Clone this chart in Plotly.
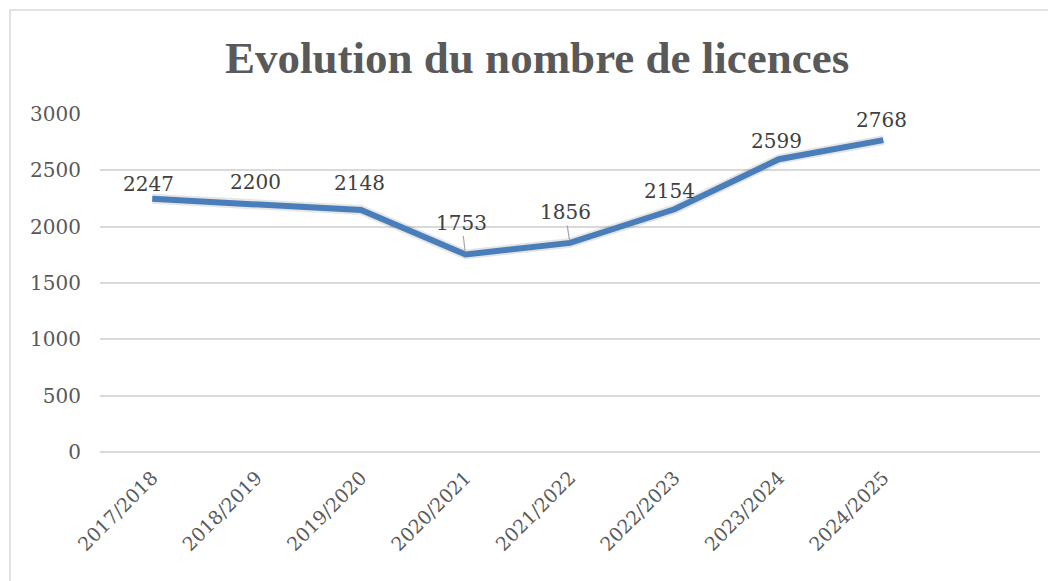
import plotly.graph_objects as go

# Data
seasons = ['2017/2018', '2018/2019', '2019/2020', '2020/2021',
           '2021/2022', '2022/2023', '2023/2024', '2024/2025']
licences = [2247, 2200, 2148, 1753, 1856, 2154, 2599, 2768]
y_ticks = [0, 500, 1000, 1500, 2000, 2500, 3000]

SERIF = "DejaVu Serif, serif"
TITLE_FONT = "Liberation Serif, serif"
LINE_COLOR = '#4A7EBB'

fig = go.Figure()

# soft shadow under the line
fig.add_trace(go.Scatter(
    x=seasons, y=licences, mode='lines',
    line=dict(color='rgba(0,0,0,0.10)', width=10),
    hoverinfo='skip', showlegend=False,
))
fig.add_trace(go.Scatter(
    x=seasons, y=licences, mode='lines',
    line=dict(color=LINE_COLOR, width=6),
    name='Licences', showlegend=False,
))

# data labels (moved by hand in the original, two with leader lines)
label_offsets = [
    (-4, 15, False),
    (-1, 22, False),
    (-2, 27, False),
    (-4, 32, True),
    (-5, 31, True),
    (-5, 18, False),
    (-2, 18, False),
    (-2, 20, False),
]
for s, v, (dx, dy, leader) in zip(seasons, licences, label_offsets):
    if leader:
        fig.add_annotation(
            x=s, y=v, text=str(v), showarrow=True, arrowhead=0,
            arrowwidth=1.2, arrowcolor='#A6A6A6', ax=dx, ay=-dy,
            standoff=3,
            font=dict(family=SERIF, size=20, color='#404040'),
        )
    else:
        fig.add_annotation(
            x=s, y=v, text=str(v), showarrow=False,
            xshift=dx, yshift=dy,
            font=dict(family=SERIF, size=20, color='#404040'),
        )

# title
fig.add_annotation(
    x=0.465, xref='paper', y=1.165, yref='paper', yanchor='middle',
    text='<b>Evolution du nombre de licences</b>', showarrow=False,
    font=dict(family=TITLE_FONT, size=45, color='#595959'),
)

# chart border
fig.add_shape(
    type='rect', xref='paper', yref='paper',
    x0=-0.0957, x1=1.2, y0=-0.6, y1=1.3077,
    line=dict(color='#D9D9D9', width=1.5), layer='below',
)

fig.update_layout(
    width=1048, height=573,
    margin=dict(l=92, r=16, t=106, b=129),
    plot_bgcolor='white', paper_bgcolor='white',
    showlegend=False,
)
fig.update_xaxes(
    type='category', range=[-0.5, 8.5], tickangle=-45,
    showgrid=False, showline=False, zeroline=False, ticks='',
    ticklabelstandoff=10,
    tickfont=dict(family=SERIF, size=19, color='#595959'),
)
fig.update_yaxes(
    range=[0, 3000], tickvals=y_ticks, showgrid=True,
    gridcolor='#D9D9D9', gridwidth=1.5, zeroline=True,
    zerolinecolor='#D9D9D9', zerolinewidth=1.5, showline=False,
    ticks='', ticklabelstandoff=18,
    tickfont=dict(family=SERIF, size=20, color='#595959'),
)

fig.write_html("out.html")
